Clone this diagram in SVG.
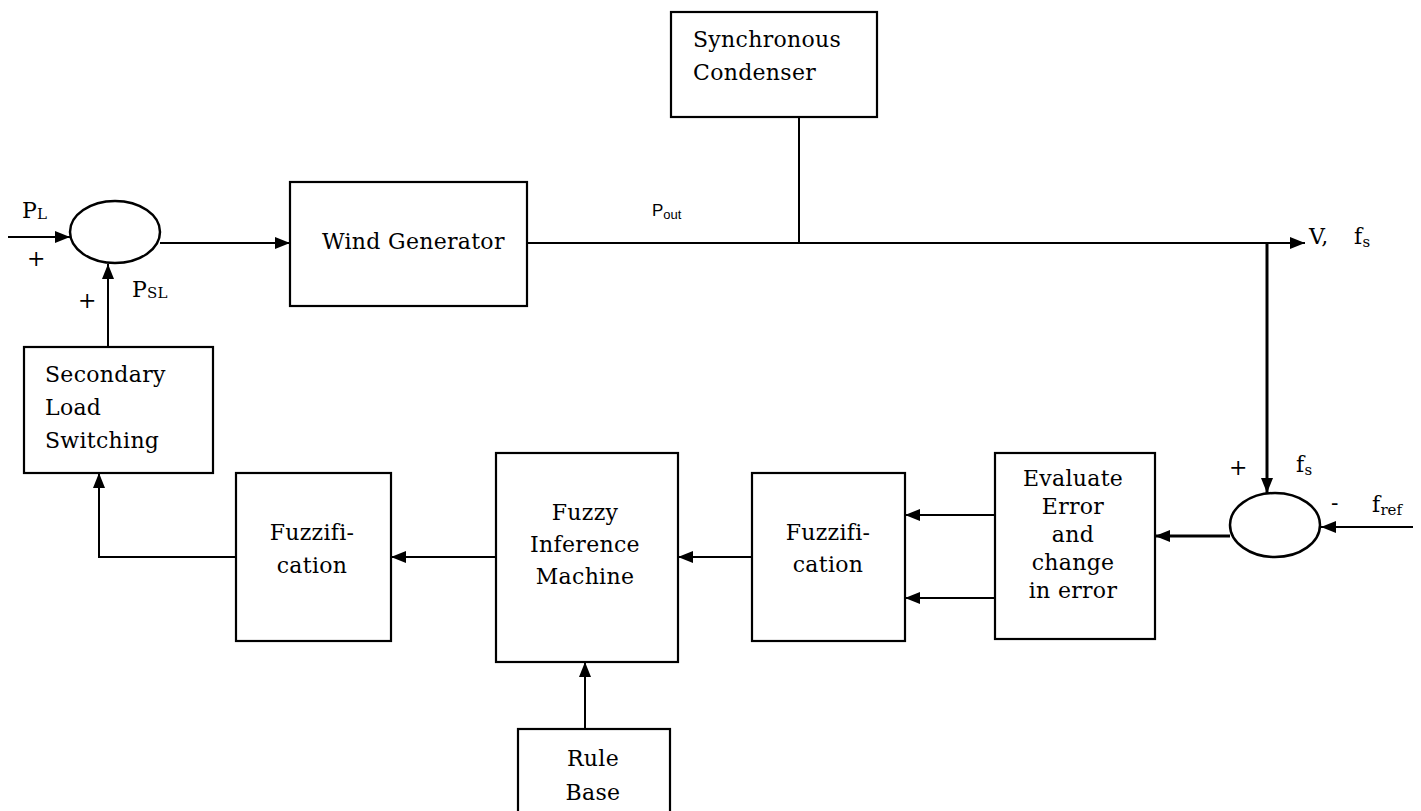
<svg xmlns="http://www.w3.org/2000/svg" width="1421" height="811" viewBox="0 0 1421 811">
<defs>
<marker id="ah" markerUnits="userSpaceOnUse" markerWidth="16" markerHeight="12" refX="15" refY="6" orient="auto">
<path d="M0,0 L15,6 L0,12 Z" fill="#000"/>
</marker>
<style>
.box{fill:#fff;stroke:#000;stroke-width:2.2}
.sum{fill:#fff;stroke:#000;stroke-width:2.5}
.t{font-family:"DejaVu Serif","Liberation Serif",serif;font-size:22px;letter-spacing:0.3px;fill:#000}
.c{text-anchor:middle}
.ln{fill:none;stroke:#000;stroke-width:2}
.thick{fill:none;stroke:#000;stroke-width:3}
.s{font-size:15px;letter-spacing:0}
.sans{font-family:"Liberation Sans",Arial,sans-serif;fill:#000}
</style>
</defs>
<rect width="1421" height="811" fill="#fff"/>

<g id="connectors">
<path class="ln" d="M8,237 L70,237" marker-end="url(#ah)"/>
<path class="ln" d="M160,243 L290,243" marker-end="url(#ah)"/>
<path class="ln" d="M108,347 L108,264" marker-end="url(#ah)"/>
<path class="ln" d="M527,243 L1305,243" marker-end="url(#ah)"/>
<path class="ln" d="M799,117 L799,243"/>
<path class="thick" d="M1267,243 L1267,493" marker-end="url(#ah)"/>
<path class="ln" d="M1413,527 L1321,527" marker-end="url(#ah)"/>
<path class="thick" d="M1230,536 L1155,536" marker-end="url(#ah)"/>
<path class="ln" d="M995,515 L905,515" marker-end="url(#ah)"/>
<path class="ln" d="M995,598 L905,598" marker-end="url(#ah)"/>
<path class="ln" d="M752,557 L678,557" marker-end="url(#ah)"/>
<path class="ln" d="M496,557 L391,557" marker-end="url(#ah)"/>
<path class="ln" d="M236,557 L99,557 L99,473" marker-end="url(#ah)"/>
<path class="ln" d="M585,729 L585,662" marker-end="url(#ah)"/>
</g>

<g id="sum1">
<ellipse class="sum" cx="115" cy="232" rx="45" ry="31"/>
</g>
<g id="sum2">
<ellipse class="sum" cx="1275" cy="525" rx="45" ry="32"/>
</g>

<g id="wind-generator">
<rect class="box" x="290" y="182" width="237" height="124"/>
<text class="t" x="322" y="249">Wind Generator</text>
</g>

<g id="synchronous-condenser">
<rect class="box" x="671" y="12" width="206" height="105"/>
<text class="t" x="693" y="47">Synchronous</text>
<text class="t" x="693" y="80">Condenser</text>
</g>

<g id="secondary-load-switching">
<rect class="box" x="24" y="347" width="189" height="126"/>
<text class="t" x="45" y="382">Secondary</text>
<text class="t" x="45" y="415">Load</text>
<text class="t" x="45" y="448">Switching</text>
</g>

<g id="fuzzification-left">
<rect class="box" x="236" y="473" width="155" height="168"/>
<text class="t c" x="312" y="540">Fuzzifi-</text>
<text class="t c" x="312" y="573">cation</text>
</g>

<g id="fuzzy-inference-machine">
<rect class="box" x="496" y="453" width="182" height="209"/>
<text class="t c" x="585" y="520">Fuzzy</text>
<text class="t c" x="585" y="552">Inference</text>
<text class="t c" x="585" y="584">Machine</text>
</g>

<g id="rule-base">
<rect class="box" x="518" y="729" width="152" height="90"/>
<text class="t c" x="593" y="766">Rule</text>
<text class="t c" x="593" y="800">Base</text>
</g>

<g id="fuzzification-right">
<rect class="box" x="752" y="473" width="153" height="168"/>
<text class="t c" x="828" y="540">Fuzzifi-</text>
<text class="t c" x="828" y="572">cation</text>
</g>

<g id="evaluate-error">
<rect class="box" x="995" y="453" width="160" height="186"/>
<text class="t c" x="1073" y="486">Evaluate</text>
<text class="t c" x="1073" y="514">Error</text>
<text class="t c" x="1073" y="542">and</text>
<text class="t c" x="1073" y="570">change</text>
<text class="t c" x="1073" y="598">in error</text>
</g>

<g id="labels">
<text class="t" x="22" y="218">P<tspan class="s" dy="1">L</tspan></text>
<text class="t" x="27" y="266">+</text>
<text class="t" x="78" y="308">+</text>
<text class="t" x="132" y="297">P<tspan class="s" dy="1">SL</tspan></text>
<text class="sans" x="652" y="216" font-size="17">P<tspan font-size="13" dy="3">out</tspan></text>
<text class="t" x="1309" y="244">V,</text>
<text class="t" x="1354" y="244">f<tspan class="s" dy="3">s</tspan></text>
<text class="t" x="1229" y="475">+</text>
<text class="t" x="1296" y="472">f<tspan class="s" dy="3">s</tspan></text>
<text class="t" x="1331" y="510">-</text>
<text class="t" x="1372" y="512">f<tspan class="s" dy="3">ref</tspan></text>
</g>
</svg>
